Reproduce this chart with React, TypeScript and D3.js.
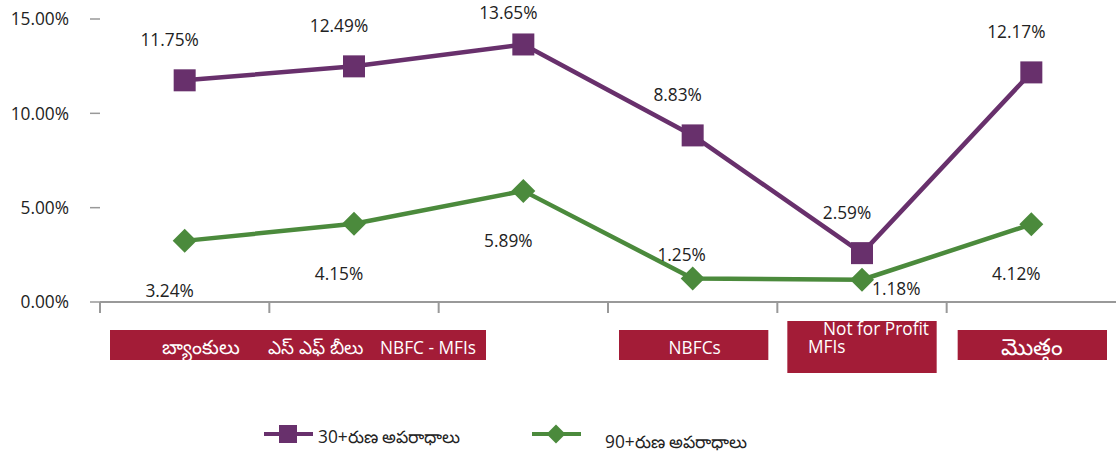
import React from "react";
import * as d3 from "d3";

const categories = ["బ్యాంకులు", "ఎస్ ఎఫ్ బీలు", "NBFC - MFIs", "NBFCs", "Not for Profit MFIs", "మొత్తం"];
const series30 = [11.75, 12.49, 13.65, 8.83, 2.59, 12.17];
const series90 = [3.24, 4.15, 5.89, 1.25, 1.18, 4.12];
const seriesNames = ["30+రుణ అపరాధాలు", "90+రుణ అపరాధాలు"];
const yTicks = [0, 5, 10, 15];
// label placement for each point of each series
const place30 = ["above", "above", "above", "above", "above", "above"];
const place90 = ["below", "below", "below", "aboveLeft", "right", "below"];

const W = 1116;
const H = 454;
const PURPLE = "#68306C";
const GREEN = "#4B8A3C";
const RED = "#A31C37";
const AXIS = "#999999";
const FONT = "'Open Sans', 'Noto Sans', sans-serif";
const FS = 17.3;

export default function App() {
  const x = d3.scaleBand<string>().domain(categories).range([100, 1116]).padding(0);
  const y = d3.scaleLinear().domain([0, 15]).range([302, 19]);
  const cx = (i: number) => (x(categories[i]) as number) + x.bandwidth() / 2;
  const line = d3
    .line<number>()
    .x((_, i) => cx(i))
    .y((d) => y(d));

  const fmt = (v: number) => v.toFixed(2) + "%";

  const labelProps = (i: number, v: number, p: string) => {
    const px = cx(i);
    const py = y(v);
    if (p === "above") return { x: px - 15, y: Math.max(py - 34, 19), anchor: "middle" };
    if (p === "below") return { x: px - 15, y: py + 56, anchor: "middle" };
    if (p === "aboveLeft") return { x: px - 11, y: py - 17, anchor: "middle" };
    return { x: px + 10, y: py + 15, anchor: "start" };
  };

  const bandStart = (i: number) => x(categories[i]) as number;
  const bw = x.bandwidth();

  const diamond = (px: number, py: number, r: number) =>
    `M${px},${py - r}L${px + r},${py}L${px},${py + r}L${px - r},${py}Z`;

  const [nfp1, nfp2] = ["Not for Profit", "MFIs"];

  return (
    <svg
      width={W}
      height={H}
      style={{ position: "absolute", left: 0, top: 0, background: "#fff" }}
      fontFamily={FONT}
      fontSize={FS}
    >
      {/* y ticks */}
      {yTicks.map((t) => (
        <g key={t}>
          <line x1={90} x2={100} y1={y(t)} y2={y(t)} stroke={AXIS} strokeWidth={1.5} />
          <text x={69} y={y(t)} dy="0.36em" textAnchor="end" fill="#222">
            {t.toFixed(2) + "%"}
          </text>
        </g>
      ))}
      {/* x axis */}
      <line x1={100} x2={1116} y1={y(0)} y2={y(0)} stroke={AXIS} strokeWidth={2} />
      {categories.map((c, i) => (
        <line
          key={c}
          x1={bandStart(i)}
          x2={bandStart(i)}
          y1={y(0)}
          y2={y(0) + 11}
          stroke={AXIS}
          strokeWidth={2}
        />
      ))}

      {/* category label boxes */}
      <rect x={bandStart(0) + 10} y={330} width={486 - (bandStart(0) + 10)} height={30} fill={RED} />
      <text x={162} y={354} fill="#fff" fontSize={19.5}>{categories[0]}</text>
      <text x={268} y={354} fill="#fff" fontSize={18.5}>{categories[1]}</text>
      <text x={380} y={354} fill="#fff">{categories[2]}</text>

      <rect x={bandStart(3) + 11} y={330} width={bw - 20} height={30} fill={RED} />
      <text x={cx(3) + 2} y={354} textAnchor="middle" fill="#fff">{categories[3]}</text>

      <rect x={bandStart(4) + 10} y={321} width={bw - 20} height={52} fill={RED} />
      <text fill="#fff">
        <tspan x={823} y={335}>{nfp1}</tspan>
        <tspan x={808} y={353}>{nfp2}</tspan>
      </text>

      <rect x={bandStart(5) + 11} y={330} width={bw - 20} height={30} fill={RED} />
      <text x={cx(5) + 1} y={355} textAnchor="middle" fill="#fff" fontSize={23}>{categories[5]}</text>

      {/* lines */}
      <path d={line(series30) || ""} fill="none" stroke={PURPLE} strokeWidth={4.5} strokeLinejoin="round" />
      <path d={line(series90) || ""} fill="none" stroke={GREEN} strokeWidth={4.5} strokeLinejoin="round" />

      {series30.map((v, i) => (
        <rect key={"s" + i} x={cx(i) - 11} y={y(v) - 11} width={22} height={22} fill={PURPLE} />
      ))}
      {series90.map((v, i) => (
        <path key={"d" + i} d={diamond(cx(i), y(v), 12)} fill={GREEN} />
      ))}

      {series30.map((v, i) => {
        const l = labelProps(i, v, place30[i]);
        return (
          <text key={"l30" + i} x={l.x} y={l.y} textAnchor={l.anchor as any} fill="#222">
            {fmt(v)}
          </text>
        );
      })}
      {series90.map((v, i) => {
        const l = labelProps(i, v, place90[i]);
        return (
          <text key={"l90" + i} x={l.x} y={l.y} textAnchor={l.anchor as any} fill="#222">
            {fmt(v)}
          </text>
        );
      })}

      {/* legend */}
      <line x1={264} x2={313} y1={434} y2={434} stroke={PURPLE} strokeWidth={4} />
      <rect x={279} y={425} width={18} height={18} fill={PURPLE} />
      <text x={318} y={443} fill="#222">{seriesNames[0]}</text>

      <line x1={532} x2={581} y1={434} y2={434} stroke={GREEN} strokeWidth={4} />
      <path d={diamond(556, 434, 9.5)} fill={GREEN} />
      <text x={605} y={448} fill="#222">{seriesNames[1]}</text>
    </svg>
  );
}
